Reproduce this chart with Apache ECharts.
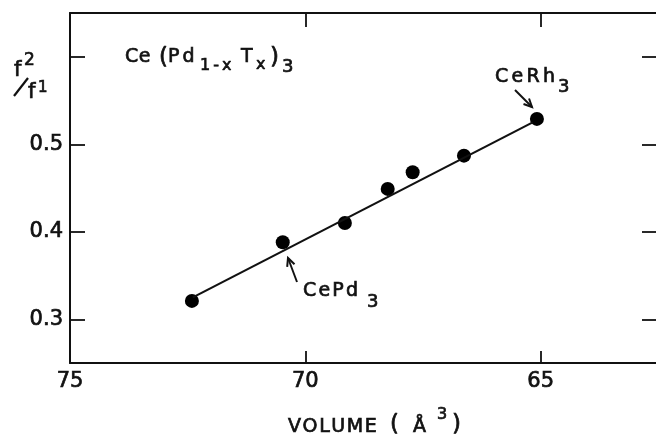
<!DOCTYPE html>
<html><head><meta charset="utf-8">
<script src="https://cdn.jsdelivr.net/npm/echarts@6/dist/echarts.min.js"></script>
<style>html,body{margin:0;padding:0;background:#fff}#c{width:656px;height:434px}</style>
</head><body><div id="c"></div>
<script>
// ---- data ----
const volume = [72.41, 70.48, 69.16, 68.25, 67.72, 66.63, 65.08];
const ratio  = [0.321, 0.388, 0.410, 0.449, 0.468, 0.487, 0.529];
const fitVolume = [72.39, 65.17];
const fitRatio  = [0.325, 0.525];
const xTicks = [75, 70, 65];
const xTopTicks = [70, 65];
const yTicks = [0.3, 0.4, 0.5, 0.6];
const yLabels = [0.3, 0.4, 0.5];

const FAM = '"DejaVu Sans", sans-serif';
const INK = '#111';
const chart = echarts.init(document.getElementById('c'), null, {renderer: 'canvas'});

const mctx = document.createElement('canvas').getContext('2d');
function spaced(str, x, y, size, gap) {
  mctx.font = size + 'px "DejaVu Sans"';
  const els = [];
  let cx = x;
  for (const ch of str) {
    if (ch !== ' ') els.push({type: 'text', x: cx, y: y, silent: true,
      style: {text: ch, fontSize: size, fontFamily: FAM, fill: INK, stroke: INK, lineWidth: 0.7,
              align: 'left', verticalAlign: 'middle'}});
    cx += mctx.measureText(ch).width + gap;
  }
  return els;
}
function arrow(x1, y1, x2, y2) {
  const a = Math.atan2(y2 - y1, x2 - x1), L = 9, w = 0.45;
  return [
    {type: 'line', silent: true, shape: {x1: x1, y1: y1, x2: x2, y2: y2}, style: {stroke: INK, lineWidth: 2}},
    {type: 'polyline', silent: true, shape: {points: [
      [x2 - L * Math.cos(a - w), y2 - L * Math.sin(a - w)], [x2, y2],
      [x2 - L * Math.cos(a + w), y2 - L * Math.sin(a + w)]]},
     style: {stroke: INK, lineWidth: 2, fill: null}}
  ];
}

const graphic = [].concat(
  // title  Ce (Pd1-x Tx)3
  spaced('Ce', 125, 57, 19, 0.5),
  spaced('(', 159, 58, 23, 0),
  spaced('Pd', 168, 57, 19, 3),
  spaced('1-x', 200, 66, 16, 3),
  spaced('T', 241, 57, 19, 0),
  spaced('x', 256, 65, 16, 0),
  spaced(')', 270, 58, 23, 0),
  spaced('3', 282, 67, 18, 0),
  // y label f2/f1
  spaced('f', 14, 71, 21, 0),
  spaced('2', 24, 61, 17, 0),
  [{type: 'line', silent: true, shape: {x1: 14, y1: 96, x2: 28, y2: 78}, style: {stroke: INK, lineWidth: 2.2}}],
  spaced('f', 28, 93, 21, 0),
  spaced('1', 38, 88, 15, 0),
  // x name
  spaced('VOLUME', 288, 427, 19, 1.6),
  spaced('(', 390, 425, 23, 0),
  spaced('\u00C5', 413, 427, 19, 0),
  spaced('3', 437, 415, 16, 0),
  spaced(')', 452, 425, 23, 0),
  // annotations
  spaced('CePd', 303, 291, 19, 2.2),
  spaced('3', 367, 302, 18, 0),
  arrow(297, 282, 288, 258),
  spaced('CeRh', 495, 77, 19, 3.3),
  spaced('3', 558, 87, 18, 0),
  arrow(515, 90, 532, 107)
);

const axisLine = {show: true, onZero: false, lineStyle: {color: INK, width: 2}};
const labelStyle = {fontSize: 21, fontFamily: FAM, color: INK, textBorderColor: INK, textBorderWidth: 0.7};

chart.setOption({
  animation: false,
  backgroundColor: '#fff',
  grid: {left: 70, right: 0, top: 13, bottom: 71, show: false},
  xAxis: [
    {type: 'value', inverse: true, min: 62.55, max: 75, position: 'bottom',
     axisLine: axisLine,
     axisTick: {show: true, inside: true, length: 12, customValues: xTicks, lineStyle: {color: INK, width: 1.8}},
     axisLabel: Object.assign({customValues: xTicks, margin: 8}, labelStyle),
     splitLine: {show: false}},
    {type: 'value', inverse: true, min: 62.55, max: 75, position: 'top',
     axisLine: axisLine,
     axisTick: {show: true, inside: true, length: 14, customValues: xTopTicks, lineStyle: {color: INK, width: 1.8}},
     axisLabel: {show: false}, splitLine: {show: false}}
  ],
  yAxis: [
    {type: 'value', min: 0.25, max: 0.65, position: 'left',
     axisLine: axisLine,
     axisTick: {show: true, inside: true, length: 15, customValues: yTicks, lineStyle: {color: INK, width: 1.8}},
     axisLabel: Object.assign({customValues: yLabels, margin: 7, formatter: function (v) { return Number(v).toFixed(1); }}, labelStyle),
     splitLine: {show: false}},
    {type: 'value', min: 0.25, max: 0.65, position: 'right',
     axisLine: {show: false},
     axisTick: {show: true, inside: true, length: 14, customValues: yTicks, lineStyle: {color: INK, width: 1.8}},
     axisLabel: {show: false}, splitLine: {show: false}}
  ],
  series: [
    {type: 'line', xAxisIndex: 0, yAxisIndex: 0, symbol: 'none', silent: true,
     data: fitVolume.map(function (v, i) { return [v, fitRatio[i]]; }),
     lineStyle: {color: INK, width: 2.2}},
    {type: 'scatter', xAxisIndex: 0, yAxisIndex: 0, symbol: 'circle', symbolSize: 14,
     data: volume.map(function (v, i) { return [v, ratio[i]]; }),
     itemStyle: {color: '#000', opacity: 1}}
  ],
  graphic: graphic
});
</script></body></html>
